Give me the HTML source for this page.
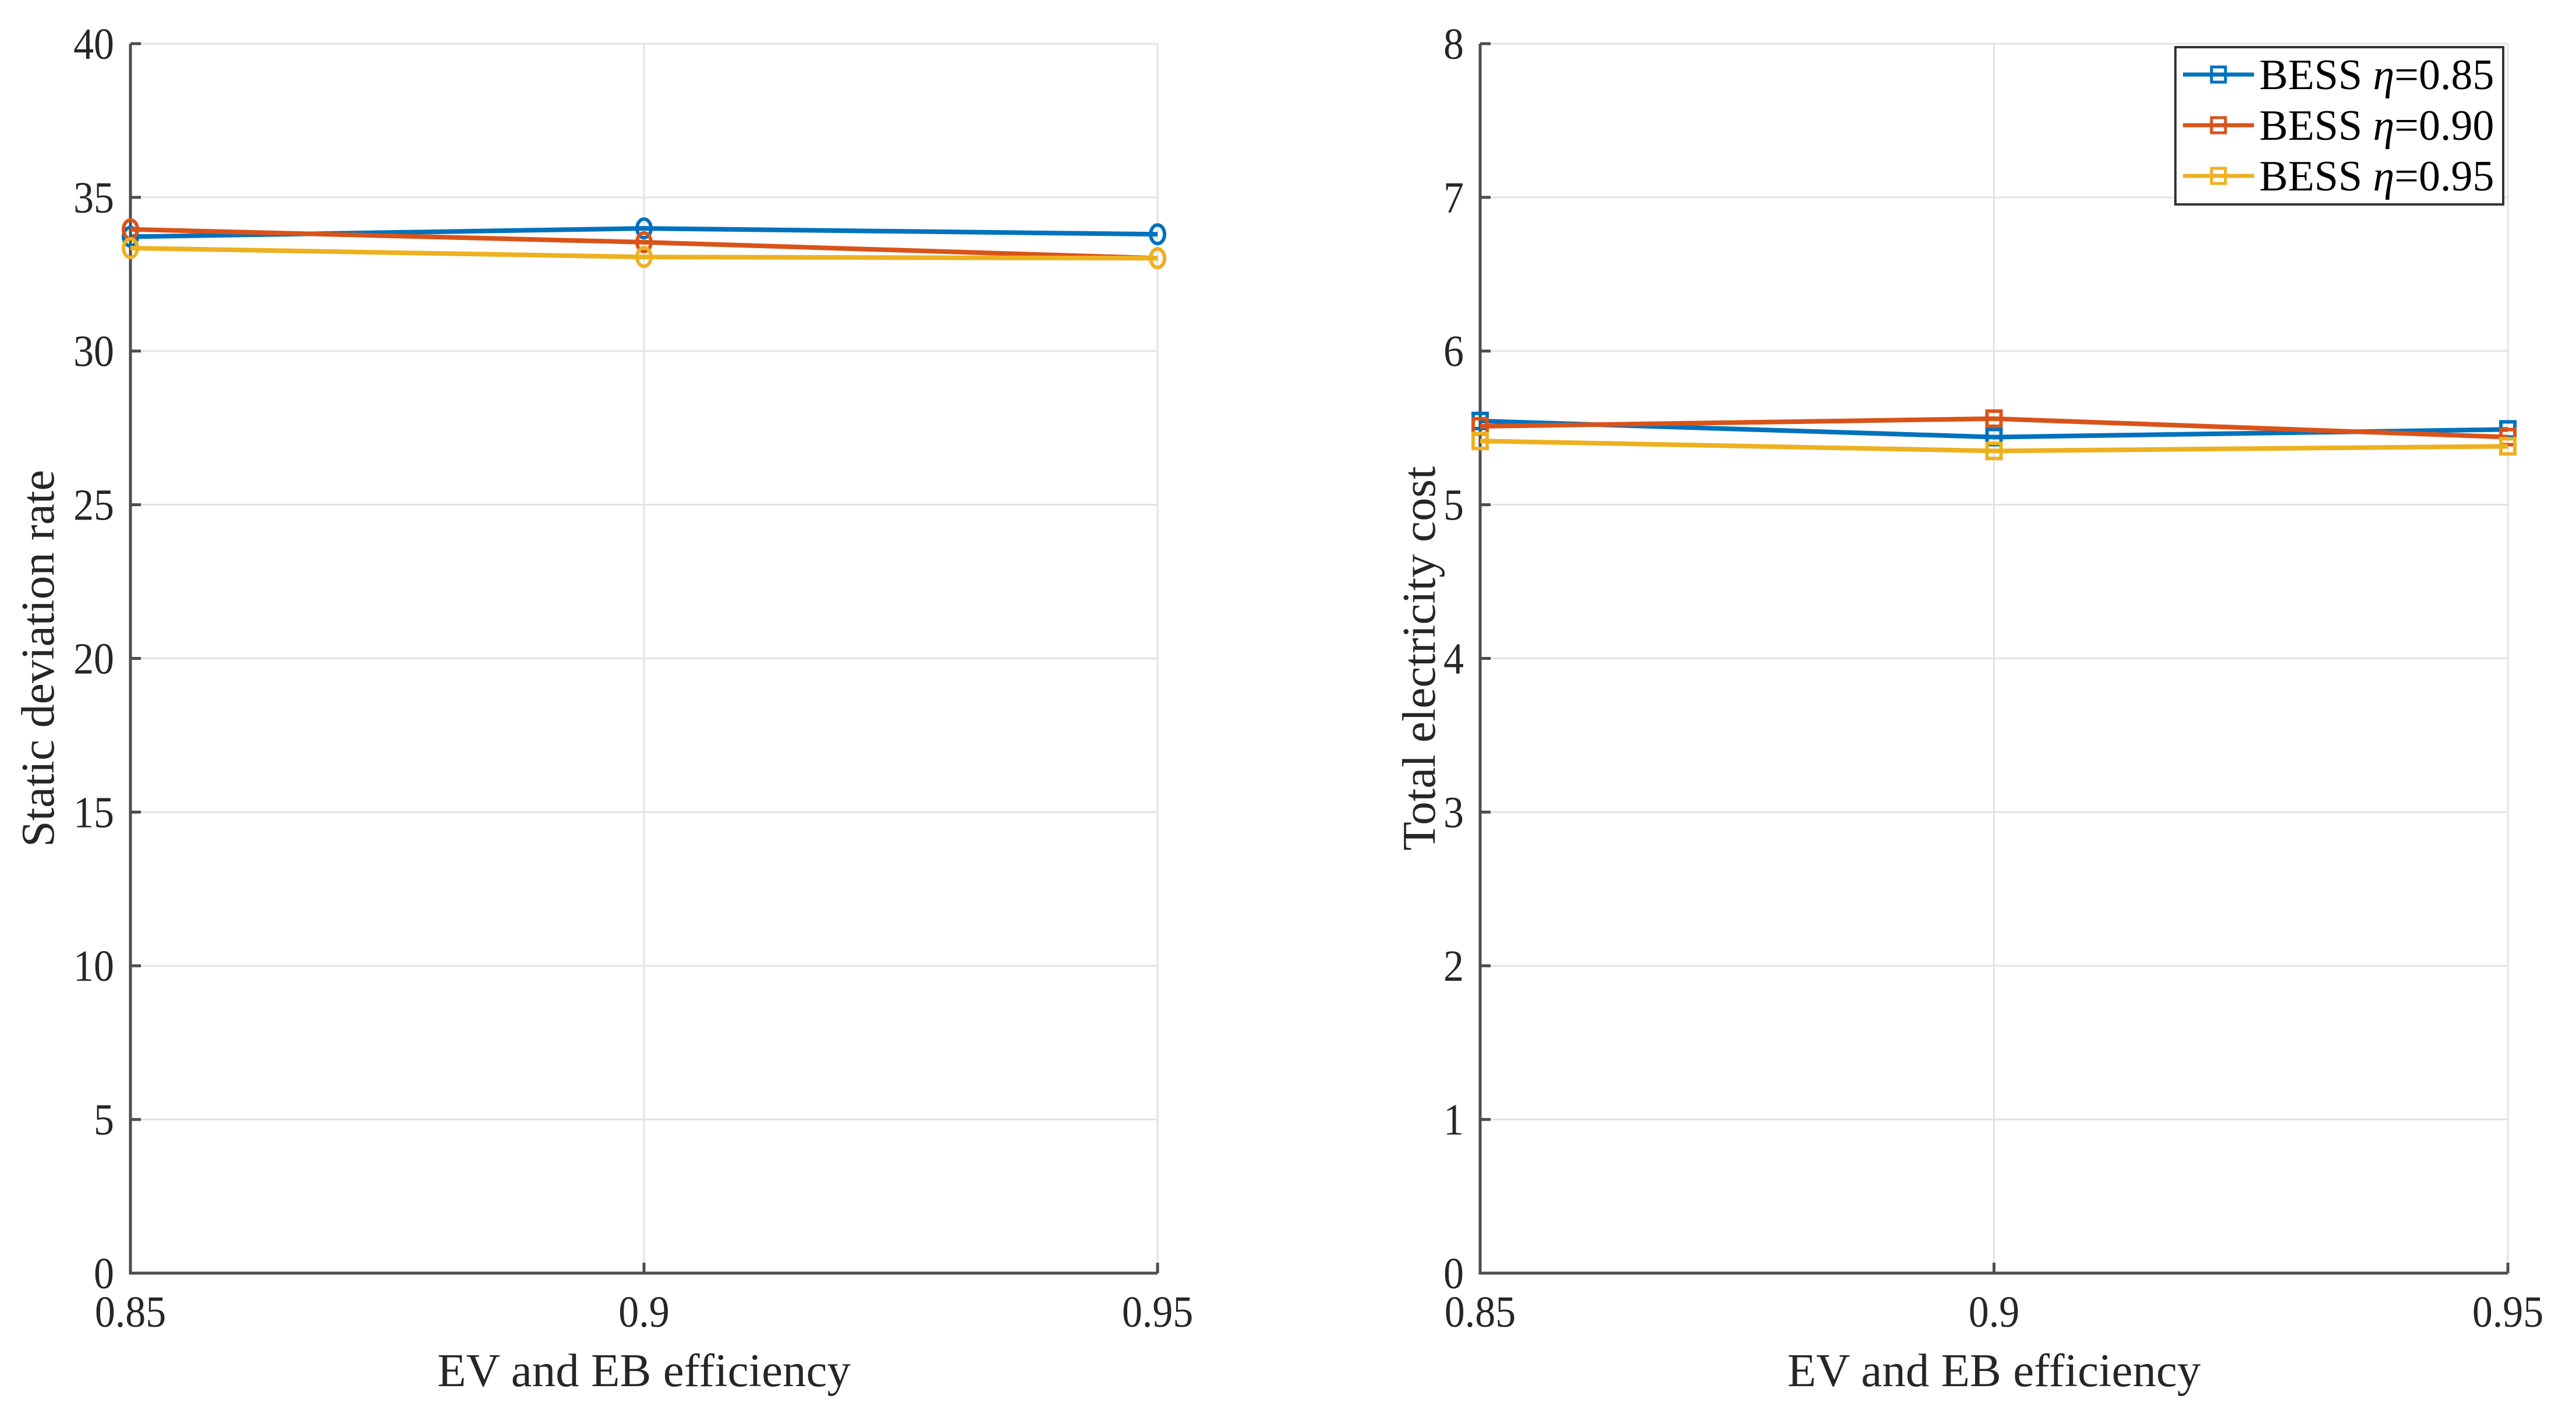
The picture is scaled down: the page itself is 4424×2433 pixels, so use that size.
<!DOCTYPE html>
<html><head><meta charset="utf-8">
<style>
html,body{margin:0;padding:0;background:#fff;}
svg{display:block;font-family:"Liberation Serif",serif;}
</style></head>
<body>
<svg id="chart" width="4424" height="2433" viewBox="0 0 4424 2433" xmlns="http://www.w3.org/2000/svg"></svg>
<script>
const categories = [0.85, 0.9, 0.95];
const xTickLabels = ["0.85", "0.9", "0.95"];
const leftYTicks = [0, 5, 10, 15, 20, 25, 30, 35, 40];
const rightYTicks = [0, 1, 2, 3, 4, 5, 6, 7, 8];
const seriesNames = ["BESS η=0.85", "BESS η=0.90", "BESS η=0.95"];
const leftBlue = [33.72, 33.99, 33.8];
const leftRed = [33.96, 33.54, 33.02];
const leftYellow = [33.35, 33.06, 33.02];
const rightBlue = [5.545, 5.44, 5.49];
const rightRed = [5.51, 5.56, 5.44];
const rightYellow = [5.415, 5.35, 5.38];

const colors = ["#0072BD", "#D95319", "#EDB120"];
const NS = "http://www.w3.org/2000/svg";
const svg = document.getElementById("chart");
function mk(tag, attrs, parent) {
  const e = document.createElementNS(NS, tag);
  for (const k in attrs) e.setAttribute(k, attrs[k]);
  (parent || svg).appendChild(e);
  return e;
}

function drawPanel(p) {
  const g = mk("g", {});
  
  
  const x = v => p.x0 + (v - 0.85) / 0.1 * (p.x1 - p.x0);
  const y = v => p.y0 - (v - p.ymin) / (p.ymax - p.ymin) * (p.y0 - p.y1);
  p.yticks.forEach(t => {
    const l = mk("line", {x1: p.x0, x2: p.x1, y1: y(t), y2: y(t), stroke: "#e3e3e3", "stroke-width": 3}, g);
    
    
  });
  categories.forEach(c => {
    const l = mk("line", {x1: x(c), x2: x(c), y1: p.y0, y2: p.y1, stroke: "#e3e3e3", "stroke-width": 3}, g);
    
    
  });
  const ax = mk("path", {d: `M${p.x0},${p.y1} L${p.x0},${p.y0} L${p.x1},${p.y0}`, fill: "none", stroke: "#4d4d4d", "stroke-width": 5}, g);
  
  
  p.yticks.forEach(t => {
    mk("line", {x1: p.x0, x2: p.x0 + 18, y1: y(t), y2: y(t), stroke: "#4d4d4d", "stroke-width": 5}, g);
    const tx = mk("text", {x: p.x0 - 28, y: y(t) + 26, "text-anchor": "end", "font-size": 76, fill: "#262626", transform: `translate(${(p.x0 - 28) * 0.08},0) scale(0.92,1)`}, g);
    
    
    tx.textContent = String(t);
  });
  categories.forEach((c, i) => {
    mk("line", {x1: x(c), x2: x(c), y1: p.y0, y2: p.y0 - 18, stroke: "#4d4d4d", "stroke-width": 5}, g);
    const tx = mk("text", {x: x(c), y: 2278, "text-anchor": "middle", "font-size": 76, fill: "#262626", transform: `translate(${x(c) * 0.08},0) scale(0.92,1)`}, g);
    
    
    tx.textContent = xTickLabels[i];
  });
  const xl = mk("text", {x: (p.x0 + p.x1) / 2, y: 2380, "text-anchor": "middle", "font-size": 81, fill: "#262626"}, g);
  
  
  xl.textContent = "EV and EB efficiency";
  const yc = (p.y0 + p.y1) / 2;
  const yl = mk("text", {x: 0, y: 0, "text-anchor": "middle", "font-size": 81, fill: "#262626", transform: `translate(${p.ylx},${yc}) rotate(-90)`}, g);
  
  
  yl.textContent = p.ylabel;
  p.series.forEach((s, si) => {
    const sg = mk("g", {}, g);
    
    
    const pts = s.map((v, i) => x(categories[i]) + "," + y(v)).join(" ");
    const pl = mk("polyline", {points: pts, fill: "none", stroke: colors[si], "stroke-width": 8}, sg);
    
    
    s.forEach((v, i) => {
      let m;
      if (p.marker === "circle") {
        m = mk("ellipse", {cx: x(categories[i]), cy: y(v), rx: 12, ry: 16, fill: "none", stroke: colors[si], "stroke-width": 6}, sg);
      } else {
        m = mk("rect", {x: x(categories[i]) - 12, y: y(v) - 13, width: 24, height: 26, fill: "none", stroke: colors[si], "stroke-width": 6}, sg);
      }
      
      
    });
  });
}

drawPanel({name: "left-panel", x0: 224, x1: 1988, y0: 2186, y1: 75, ymin: 0, ymax: 40,
  yticks: leftYTicks, ylabel: "Static deviation rate", ylx: 92, marker: "circle",
  series: [leftBlue, leftRed, leftYellow]});
drawPanel({name: "right-panel", x0: 2542, x1: 4307, y0: 2186, y1: 75, ymin: 0, ymax: 8,
  yticks: rightYTicks, ylabel: "Total electricity cost", ylx: 2464, marker: "square",
  series: [rightBlue, rightRed, rightYellow]});

const lg = mk("g", {});


mk("rect", {x: 3736, y: 81, width: 563, height: 270, fill: "#fff", stroke: "#333", "stroke-width": 4}, lg);
seriesNames.forEach((n, i) => {
  const ly = 128 + i * 87;
  const e = mk("g", {}, lg);
  
  
  mk("line", {x1: 3749, x2: 3871, y1: ly, y2: ly, stroke: colors[i], "stroke-width": 7}, e);
  mk("rect", {x: 3798, y: ly - 13, width: 24, height: 26, fill: "none", stroke: colors[i], "stroke-width": 5}, e);
  const t = mk("text", {x: 3880, y: ly + 25, "font-size": 74, fill: "#000"}, e);
  t.innerHTML = 'BESS <tspan font-style="italic">η</tspan>=' + n.split("=")[1];
});
</script>
</body></html>
